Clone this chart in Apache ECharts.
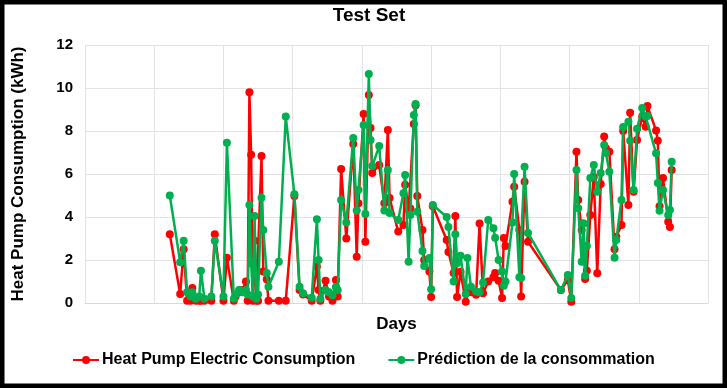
<!DOCTYPE html>
<html><head><meta charset="utf-8">
<script src="https://cdn.jsdelivr.net/npm/echarts@6/dist/echarts.min.js"></script>
<style>html,body{margin:0;padding:0;background:#fff}#c{width:727px;height:388px}</style>
</head><body><div id="c"></div>
<script>
const days = [49,55,57,59,61,62,64,66,67,69,73,75,80,82,86,87,89,91,93,94,95,96,97,98,99,100,102,103,105,106,112,116,121,124,126,131,134,135,136,139,141,143,145,146,148,151,155,157,158,161,162,164,165,166,170,173,175,176,181,184,185,187,188,190,191,192,195,196,199,200,201,209,210,213,214,215,217,220,221,223,226,228,230,233,236,237,239,241,242,243,247,248,251,252,254,256,275,279,281,284,285,287,288,289,290,292,294,296,298,300,301,303,306,307,310,311,314,315,317,319,322,324,325,330,331,332,334,337,338,339];
const actual = [3.2,0.42,2.5,0.1,0.1,0.7,0.1,0.1,0.1,0.1,0.1,3.2,0.1,2.1,0.1,0.3,0.5,0.6,1.0,0.1,9.8,6.9,0.1,2.9,0.1,0.1,6.84,1.46,1.1,0.1,0.1,0.1,4.98,0.6,0.4,0.1,1.7,0.6,0.1,1.04,0.3,0.1,1.07,0.3,6.23,3.0,7.4,2.15,4.64,8.79,2.85,9.67,8.14,6.05,6.42,4.64,8.05,4.88,3.32,3.63,5.5,4.33,4.4,8.33,9.2,4.98,3.4,2.0,1.46,0.28,4.5,2.93,2.37,1.4,4.05,0.28,1.45,0.06,0.5,0.5,0.38,3.7,0.45,1.0,1.2,1.39,1.04,0.23,3.02,2.65,4.71,5.41,3.4,0.3,5.64,2.85,0.6,1.07,0.06,7.04,4.79,3.4,3.7,1.12,1.5,4.09,5.86,1.38,5.53,7.74,7.2,7.04,2.5,3.08,3.63,8.0,4.56,8.85,5.18,7.58,8.67,8.2,9.16,8.02,7.55,4.5,5.81,3.78,3.53,6.19];
const predicted = [5.0,1.9,2.9,0.5,0.3,0.5,0.2,0.3,1.5,0.2,0.3,2.9,0.3,7.45,0.2,0.4,0.6,0.5,0.6,0.4,4.56,1.85,0.3,4.05,0.2,0.4,4.9,3.4,1.4,0.76,1.92,8.67,5.06,0.76,0.45,0.25,3.9,2.0,0.2,0.6,0.5,0.36,0.75,0.6,4.79,3.74,7.67,4.3,5.26,8.28,4.14,10.65,7.58,6.37,7.3,4.3,6.19,4.19,3.86,5.1,5.95,1.92,4.09,8.74,9.26,4.25,2.42,1.72,2.09,0.64,4.56,4.0,3.53,1.0,3.2,1.85,2.2,0.42,2.09,0.76,0.53,0.5,0.95,3.86,3.48,3.04,2.0,1.46,0.8,1.0,3.74,6.0,1.2,1.16,6.34,3.26,0.6,1.3,0.23,6.19,4.41,1.92,3.7,1.27,2.65,5.81,6.42,5.18,6.05,7.35,6.98,6.1,2.1,2.93,4.79,8.19,8.43,7.55,5.26,8.1,9.07,8.67,8.7,6.96,5.58,4.29,5.26,4.09,4.33,6.57];
const seriesNames = ['Heat Pump Electric Consumption','Prédiction de la consommation'];
const yTicks = [0,2,4,6,8,10,12];

const font = 'Liberation Sans';
const chart = echarts.init(document.getElementById('c'));
const mk = (vals) => days.map((d,i)=>[d, vals[i]]);
chart.setOption({
  animation:false,
  title:{text:'Test Set',left:364,top:1,textAlign:'center',textStyle:{fontFamily:font,fontWeight:'bold',fontSize:19,color:'#000'}},
  grid:{left:85,right:19,top:45,bottom:85},
  legend:{bottom:15,left:67,itemGap:32,itemWidth:26,itemHeight:10,
    textStyle:{fontFamily:font,fontSize:16,fontWeight:'bold',color:'#000',padding:[0,0,0,-2]},
    data:seriesNames},
  xAxis:{type:'value',min:0,max:360,interval:40,name:'Days',nameLocation:'middle',nameGap:13,
    nameTextStyle:{fontFamily:font,fontWeight:'bold',fontSize:17,color:'#000'},
    axisLabel:{show:false},axisTick:{show:false},
    axisLine:{lineStyle:{color:'#d9d9d9',width:1}},
    splitLine:{show:true,lineStyle:{color:'#e3e3e3',width:1}}},
  yAxis:{type:'value',min:0,max:12,interval:2,name:'Heat Pump Consumption (kWh)',nameLocation:'middle',nameGap:46,
    nameTextStyle:{fontFamily:font,fontWeight:'bold',fontSize:17,color:'#000',padding:[0,0,12,0]},
    axisLabel:{fontFamily:font,fontWeight:'bold',fontSize:15,color:'#000',margin:12,
      formatter:v=>yTicks.includes(v)?String(v):''},
    axisTick:{show:false},axisLine:{show:true,lineStyle:{color:'#e3e3e3'}},
    splitLine:{show:true,lineStyle:{color:'#e3e3e3',width:1}}},
  graphic:[{type:'rect',shape:{x:0,y:0,width:727,height:388},style:{fill:'none',stroke:'#000',lineWidth:9},z:100}],
  series:[
    {name:seriesNames[0],type:'line',data:mk(actual),symbol:'circle',symbolSize:8,
     itemStyle:{color:'#ff0000'},lineStyle:{color:'#ff0000',width:2.5},z:2},
    {name:seriesNames[1],type:'line',data:mk(predicted),symbol:'circle',symbolSize:8,
     itemStyle:{color:'#00b050'},lineStyle:{color:'#00b050',width:2.5},z:3}
  ]
});
</script></body></html>
